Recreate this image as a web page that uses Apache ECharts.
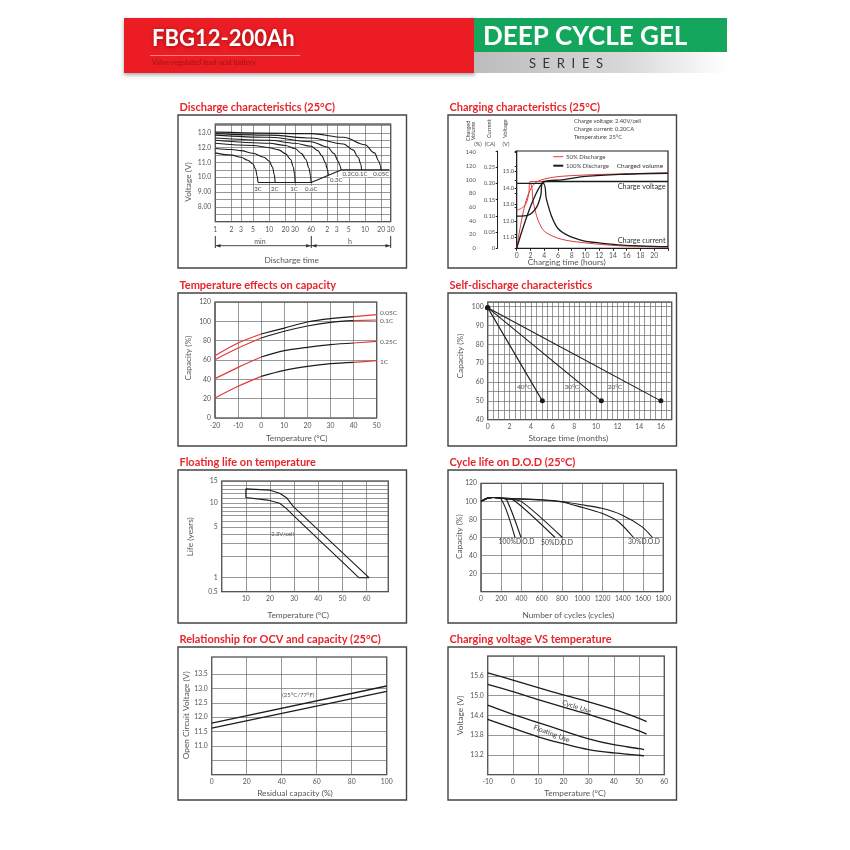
<!DOCTYPE html>
<html><head><meta charset="utf-8">
<script src="https://cdn.jsdelivr.net/npm/echarts@6/dist/echarts.min.js"></script>
<style>html,body{margin:0;padding:0;background:#fff}#c{width:850px;height:850px}</style>
</head><body><div id="c"></div>
<script>
// ================= DATA =================
// 1. Discharge characteristics (25°C): [minutes, volts]
const dischargeTickMinutes = [1,2,3,5,10,20,30,60,120,180,300,600,1200,1800];
const dischargeVoltLabels = [8,9,10,11,12,13];
const dis3C   = [[1,11.65],[2,11.5],[3,11.35],[4,11.15],[5,10.9],[5.6,10.55],[5.95,10.1],[6.2,9.65]];
const dis2C   = [[1,11.95],[2,11.88],[3,11.8],[5,11.62],[8,11.35],[10,11.1],[11.5,10.7],[12.4,10.2],[12.9,9.65]];
const dis1C   = [[1,12.3],[5,12.15],[10,12.0],[15,11.85],[20,11.6],[25,11.2],[28,10.7],[29.6,10.2],[30.3,9.65]];
const dis06C  = [[1,12.5],[10,12.3],[20,12.15],[30,11.95],[40,11.6],[48,11.2],[55,10.6],[58.5,10.1],[60,9.65]];
const dis03C  = [[1,12.65],[10,12.5],[30,12.3],[60,12.1],[80,11.8],[95,11.45],[110,11.0],[120,10.55],[125,10.15]];
const dis02C  = [[1,12.85],[10,12.7],[60,12.4],[120,12.05],[160,11.6],[190,11.1],[205,10.8],[216,10.5]];
const dis01C  = [[1,12.95],[10,12.85],[60,12.65],[240,12.25],[360,11.85],[450,11.35],[500,10.9],[520,10.5]];
const dis005C = [[1,13.05],[60,12.95],[240,12.7],[600,12.2],[900,11.65],[1080,11.1],[1160,10.8],[1190,10.5]];
const disCutoff = [[6.2,9.65],[60,9.65],[216,10.5],[1700,10.5]];
const dischargeRateLabels = ['3C','2C','1C','0.6C','0.3C','0.2C','0.1C','0.05C'];

// 2. Charging characteristics: [hours, value]
const chgVolt50 = [[0,12.65],[0.96,12.85],[1.45,13.15],[1.78,13.75],[1.93,14.4],[3.84,14.4]];
const chgCurr50 = [[0,0.2],[1.93,0.2],[2.4,0.143],[3.1,0.087],[4.1,0.051],[6.5,0.028],[9.9,0.017],[14.8,0.008],[22,0.004]];
const chgVol50  = [[0,0],[0.48,29],[0.96,53],[1.45,72],[2.17,89],[3.1,98],[5.5,104],[10,107],[15,108.5],[22,110]];
const chgVolt100 = [[0,12.3],[1.68,12.36],[2.9,12.85],[3.5,13.55],[3.84,14.4],[22,14.4]];
const chgCurr100 = [[0,0.2],[3.84,0.2],[4.3,0.153],[5.1,0.097],[6,0.061],[7.5,0.039],[9.9,0.022],[11.4,0.018],[15.3,0.01],[22,0.005]];
const chgVol100  = [[0,0],[3.84,96],[6.6,100],[10,105],[15,108],[22,109.5]];
const chgVoltLabels = [11,12,13,14,15];

// 3. Temperature effects on capacity
const tempC = [-20,-10,0,10,20,30,40,50];
const cap005C = [64.5,77.6,86.9,93,99.3,102.8,104.8,106.9];
const cap01C  = [60.3,72.4,82.8,89.7,95.2,99,100.7,101.4];
const cap025C = [40.7,52.4,63.1,69.7,73.1,75.9,77.6,79.3];
const cap1C   = [20.7,32.8,43.1,49.3,53.4,56.2,57.6,59.3];
const capLabels = ['0.05C','0.1C','0.25C','1C'];

// 4. Self-discharge: [months, %]
const sd40 = [[0,99.5],[5.05,50]];
const sd30 = [[0,99.5],[10.5,50]];
const sd20 = [[0,99.5],[16,50]];

// 5. Floating life: [°C, years]
const lifeUpper = [[10,13],[20,12.7],[24,12],[27,11],[29.7,9.1],[61,1]];
const lifeLower = [[10,11.1],[19,10.6],[24,10],[26.6,8.7],[30.2,6.8],[56.8,1]];
const lifeTickLabels = [0.5,1,5,10,15];
const lifeGridValues = [0.5,1,2,3,4,5,6,7,8,9,10,11,12,13,14,15];

// 6. Cycle life: [cycles, %]
const cyc100a = [[0,100],[60,103.3],[120,104.3],[190,103.5],[336,60]];
const cyc100b = [[0,100],[60,103.3],[120,104.3],[200,103.3],[250,102.2],[395,60]];
const cyc50a  = [[0,100],[60,103.3],[120,104.3],[200,103.4],[320,101.5],[731,60]];
const cyc50b  = [[0,100],[60,103.3],[120,104.3],[250,102.8],[400,99.7],[804,60]];
const cyc30a  = [[0,100],[60,103.3],[120,104.3],[300,103],[600,101.8],[797,99.9],[995,96.2],[1193,92.3],[1390,85],[1588,72],[1693,60]];
const cyc30b  = [[0,100],[60,103.3],[120,104.3],[300,103],[600,101.5],[797,99.3],[995,93.5],[1193,86.8],[1357,77.5],[1506,60]];

// 7. OCV: [% residual, volts]
const ocvUpper = [[0,11.8],[100,13.09]];
const ocvLower = [[0,11.62],[100,12.9]];
const ocvTicks = [10,10.5,11,11.5,12,12.5,13,13.5];
const ocvLabels = [11,11.5,12,12.5,13,13.5];

// 8. Charging voltage vs temperature: [°C, volts]
const cycUseUpper = [[-10,15.69],[0,15.47],[10,15.24],[20,15.02],[30,14.81],[40,14.58],[50,14.31],[53,14.21]];
const cycUseLower = [[-10,15.34],[0,15.12],[10,14.88],[20,14.65],[30,14.43],[40,14.18],[50,13.93],[53,13.83]];
const fltUseUpper = [[-10,14.71],[0,14.43],[10,14.18],[20,13.93],[30,13.69],[40,13.51],[50,13.39],[52,13.36]];
const fltUseLower = [[-10,14.28],[0,14.01],[10,13.75],[20,13.54],[30,13.36],[40,13.26],[50,13.19],[52,13.17]];

// ================= STYLE / LAYOUT =================
const FONT = 'Lato, "Noto Sans", "DejaVu Sans", sans-serif';
const RED_T = '#e8252a';
const AX_C = '#555';
const GRID_C = '#6b6b6b';
const LINE_C = '#1c1c1c';
const RED_L = '#e23a3a';

function merge(a,b){ for(const k in b){ const v=b[k];
  if(v && typeof v==='object' && !Array.isArray(v) && !(v instanceof Function) && a[k] && typeof a[k]==='object' && !Array.isArray(a[k])) merge(a[k],v); else a[k]=v; } return a; }

function axis(gi, extra){
  return merge({gridIndex:gi, type:'value', axisLine:{show:false}, axisTick:{show:false},
    splitLine:{show:true, lineStyle:{color:GRID_C, width:0.7}},
    axisLabel:{fontSize:6.8, color:AX_C, fontFamily:FONT, margin:4}}, extra);
}

const gridBoxes = [
  [215.3,124,175.4,97.7],
  [516.7,151,151.3,97.3],
  [215,302,161.7,116],
  [487.7,302,184,117.7],
  [221.7,481,166.6,110.7],
  [481,483.3,182.3,108.4],
  [211.7,657,175,117.7],
  [487.7,656,176.6,118.7]
];

// floating-life vertical scale: anchors of the printed (non-uniform) scale
const lifeAnchorPos = [0, 0.1265, 0.5818, 0.7986, 1];
function lifePos(L){
  const a = lifeTickLabels;
  for(let i=0;i<a.length-1;i++){
    if(L<=a[i+1] || i===a.length-2){
      const f=(Math.log(L)-Math.log(a[i]))/(Math.log(a[i+1])-Math.log(a[i]));
      return Math.round((lifeAnchorPos[i]+f*(lifeAnchorPos[i+1]-lifeAnchorPos[i]))*1e6)/1e6;
    }
  }
}
const lg = v => Math.log10(v);
const dLog = arr => arr.map(p=>[lg(p[0]),p[1]]);
const lifeT = arr => arr.map(p=>[p[0],lifePos(p[1])]);
const zipT = vals => tempC.map((t,i)=>[t,vals[i]]);

const xAxes = [
  axis(0,{min:0,max:lg(1800),
    axisTick:{customValues:dischargeTickMinutes.map(lg)},
    axisLabel:{customValues:dischargeTickMinutes.map(lg), margin:5,
      formatter:v=>{const m=Math.round(Math.pow(10,v)); return m<=60?String(m):String(Math.round(m/60));}}}),
  axis(1,{min:0,max:22,interval:2,splitLine:{show:false},
    axisTick:{show:true,length:2.5,lineStyle:{color:'#222'}},
    axisLabel:{formatter:v=>v>20?'':String(v)}}),
  axis(2,{min:-20,max:50,interval:10}),
  axis(3,{min:0,max:17,interval:0.5,axisLabel:{formatter:v=>(Math.abs(v%2)<1e-6&&v<=16)?String(v):''}}),
  axis(4,{min:0,max:69,interval:10,axisLabel:{formatter:v=>(v>=10&&v<=60)?String(v):''}}),
  axis(5,{min:0,max:1800,interval:200,axisLabel:{formatter:v=>String(v)}}),
  axis(6,{min:0,max:100,interval:20}),
  axis(7,{min:-10,max:60,interval:10})
];
const p2lbl = {margin:2.5,fontSize:5.8};
const yAxes = [
  axis(0,{min:7,max:13.6,interval:0.5,axisLabel:{formatter:v=>{
    const r=Math.round(v*10)/10; if(dischargeVoltLabels.indexOf(r)<0) return ''; return r>=10?r.toFixed(1):r.toFixed(2);}}}),
  axis(1,{position:'left',min:0,max:142,interval:20,offset:38.4,splitLine:{show:false},
    axisLine:{show:true,lineStyle:{color:'#222',width:1}},
    axisTick:{show:true,length:2,lineStyle:{color:'#222'}},
    axisLabel:merge({formatter:v=>v>140?'':String(v)},p2lbl)}),
  axis(1,{position:'left',min:0,max:0.3,interval:0.05,offset:19,splitLine:{show:false},
    axisLine:{show:true,lineStyle:{color:'#222',width:1}},
    axisTick:{show:true,length:2,lineStyle:{color:'#222'}},
    axisLabel:merge({formatter:v=>v>0.26?'':(v===0?'0':v.toFixed(2))},p2lbl)}),
  axis(1,{position:'left',offset:0,min:10.35,max:16.25,splitLine:{show:false},
    axisTick:{show:true,length:2,customValues:chgVoltLabels,lineStyle:{color:'#222'}},
    axisLabel:merge({customValues:chgVoltLabels,formatter:v=>v.toFixed(1)},p2lbl)}),
  axis(2,{min:0,max:120,interval:20}),
  axis(3,{min:40,max:102.5,interval:5,axisLabel:{formatter:v=>(Math.abs(v%10)<1e-6&&v<=100)?String(v):''}}),
  axis(4,{min:0,max:1,
    axisTick:{customValues:lifeGridValues.map(lifePos)},
    axisLabel:{customValues:lifeTickLabels.map(lifePos),
      formatter:v=>{let best=0,bd=9;lifeTickLabels.forEach((L,i)=>{const d=Math.abs(lifePos(L)-v);if(d<bd){bd=d;best=i;}});return String(lifeTickLabels[best]);}}}),
  axis(5,{min:0,max:120,interval:20,axisLabel:{formatter:v=>v===0?'':String(v)}}),
  axis(6,{min:10,max:14.1,axisTick:{customValues:ocvTicks},
    axisLabel:{customValues:ocvLabels,formatter:v=>v.toFixed(1)}}),
  axis(7,{min:12.6,max:16.2,interval:0.6,axisLabel:{formatter:v=>{const r=Math.round(v*10)/10;return (r>=13.2&&r<=15.6)?r.toFixed(1):'';}}})
];

function ln(xi, yi, data, extra){
  return merge({type:'line', xAxisIndex:xi, yAxisIndex:yi, data:data, symbol:'none', silent:true,
    lineStyle:{color:LINE_C, width:1.1}, z:3}, extra||{});
}

const series = [];
// P1
[dis3C,dis2C,dis1C,dis06C,dis03C,dis02C,dis01C,dis005C].forEach(d=>series.push(ln(0,0,dLog(d),{smooth:0.35,smoothMonotone:'x'})));
series.push(ln(0,0,dLog(disCutoff)));
// P2
series.push(ln(1,3,chgVolt50,{smooth:0.3,lineStyle:{color:RED_L,width:1}}));
series.push(ln(1,2,chgCurr50,{smooth:0.3,lineStyle:{color:RED_L,width:1}}));
series.push(ln(1,1,chgVol50,{smooth:0.3,lineStyle:{color:RED_L,width:1}}));
series.push(ln(1,3,chgVolt100,{smooth:0.3,lineStyle:{width:1.3}}));
series.push(ln(1,2,chgCurr100,{smooth:0.3,lineStyle:{width:1.3}}));
series.push(ln(1,1,chgVol100,{smooth:0.3,lineStyle:{width:1.3}}));
// P3: red outside the measured range, black inside
[cap005C,cap01C,cap025C,cap1C].forEach(d=>{
  const pts = zipT(d);
  series.push(ln(2,4,pts.slice(0,3),{smooth:0.3,lineStyle:{color:RED_L,width:1.2}}));
  series.push(ln(2,4,pts.slice(2,7),{smooth:0.35,lineStyle:{width:1.2}}));
  series.push(ln(2,4,pts.slice(6,8),{lineStyle:{color:RED_L,width:1.2}}));
});
// P4
[sd40,sd30,sd20].forEach(d=>series.push(ln(3,5,d,{symbol:'circle',symbolSize:5,showSymbol:true,itemStyle:{color:LINE_C}})));
// P5 band (upper, right closure, lower reversed, left closure)
const lifeBand = lifeUpper.concat(lifeLower.slice().reverse()).concat([lifeUpper[0]]);
series.push(ln(4,6,lifeT(lifeBand),{lineStyle:{width:1.1}}));
// P6
[cyc100a,cyc100b,cyc50a,cyc50b,cyc30a,cyc30b].forEach(d=>series.push(ln(5,7,d,{smooth:0.25})));
// P7
[ocvUpper,ocvLower].forEach(d=>series.push(ln(6,8,d,{lineStyle:{width:1.3}})));
// P8
[cycUseUpper,cycUseLower,fltUseUpper,fltUseLower].forEach(d=>series.push(ln(7,9,d,{smooth:0.3,lineStyle:{width:1.3}})));

// ================= GRAPHICS =================
const G = [];
function txt(x,y,t,o){ G.push({type:'text',x:x,y:y,rotation:(o&&o.rot)||0,silent:true,z:10,
  style:merge({text:t,fill:'#555',fontSize:7,fontFamily:FONT,align:'left',verticalAlign:'middle'}, (o&&o.style)||{})}); }
function line(x1,y1,x2,y2,c,w){ G.push({type:'line',silent:true,z:10,shape:{x1,y1,x2,y2},style:{stroke:c||'#333',lineWidth:w||1}}); }
function poly(pts,c){ G.push({type:'polygon',silent:true,z:10,shape:{points:pts},style:{fill:c||'#333'}}); }

// header
G.push({type:'rect',silent:true,shape:{x:124,y:18,width:351,height:55},style:{fill:'#ec1c24',shadowBlur:4,shadowOffsetY:2,shadowColor:'rgba(0,0,0,0.35)'}});
G.push({type:'rect',silent:true,shape:{x:474,y:18,width:253,height:34},style:{fill:'#13a65c'}});
G.push({type:'rect',silent:true,shape:{x:474,y:52,width:253,height:21},style:{fill:new echarts.graphic.LinearGradient(0,0,1,0,[{offset:0,color:'#bcbcbc'},{offset:0.6,color:'#d8d8d8'},{offset:1,color:'#ffffff'}])}});
txt(152,39,'FBG12-200Ah',{style:{fill:'#fff',fontSize:22,fontWeight:'bold',textShadowColor:'rgba(80,0,0,0.55)',textShadowBlur:4,textShadowOffsetY:1}});
line(150,55.5,300,55.5,'rgba(255,190,190,0.8)',0.8);
txt(152,62.5,'Valve-regulated lead-acid battery',{style:{fill:'#9a1616',fontSize:7.2}});
txt(483,37,'DEEP CYCLE GEL',{style:{fill:'#fff',fontSize:26,fontWeight:'bold'}});
txt(566,64,'S  E  R  I  E  S',{style:{fill:'#333',fontSize:13,align:'center'}});

// frames and titles
const frames = [[178,115],[448,115],[178,293],[448,293],[178,470],[448,470],[178,647],[448,647]];
const titles = ['Discharge characteristics (25°C)','Charging characteristics (25°C)','Temperature effects on capacity','Self-discharge characteristics','Floating life on temperature','Cycle life on D.O.D (25°C)','Relationship for OCV and capacity (25°C)','Charging voltage VS temperature'];
frames.forEach((f,i)=>{
  G.push({type:'rect',silent:true,z:1,shape:{x:f[0],y:f[1],width:228.5,height:153},style:{fill:'none',stroke:'#444',lineWidth:1.4}});
  txt(f[0]+1.5,f[1]-8,titles[i],{style:{fill:RED_T,fontSize:11,fontWeight:'bold'}});
});

// axis names
const R = Math.PI/2;
const nm = {fill:'#555',fontSize:8.3,align:'center'};
txt(188,182,'Voltage (V)',{rot:R,style:nm});      txt(291.7,260,'Discharge time',{style:nm});
txt(566.7,262.3,'Charging time (hours)',{style:nm});
txt(188.3,358,'Capacity (%)',{rot:R,style:nm});   txt(296.7,438.7,'Temperature (°C)',{style:nm});
txt(460,356,'Capacity (%)',{rot:R,style:nm});     txt(568.3,438.7,'Storage time (months)',{style:nm});
txt(190,536.7,'Life (years)',{rot:R,style:nm});   txt(298.3,615,'Temperature (°C)',{style:nm});
txt(459,536.7,'Capacity (%)',{rot:R,style:nm});   txt(568.3,615,'Number of cycles (cycles)',{style:nm});
txt(186.7,715.3,'Open Circuit Voltage (V)',{rot:R,style:nm}); txt(295,793.7,'Residual capacity (%)',{style:nm});
txt(460,715.3,'Voltage (V)',{rot:R,style:nm});    txt(575,793,'Temperature (°C)',{style:nm});

// P1 annotations
const sm = {fill:'#444',fontSize:6,align:'center',backgroundColor:'#fff'};
const rlPos = [[258,189],[274.7,189],[294,189],[311.3,189],[336.3,180],[348.7,174.3],[361.3,174.3],[381.3,174.3]];
dischargeRateLabels.forEach((t,i)=>txt(rlPos[i][0],rlPos[i][1],t,{style:sm}));
line(215.3,236,215.3,248,'#333',1); line(311.3,236,311.3,248,'#333',1); line(390.7,236,390.7,248,'#333',1);
line(215.3,245.7,390.7,245.7,'#333',0.9);
poly([[215.8,245.7],[220.5,243.9],[220.5,247.5]]); poly([[310.8,245.7],[306.1,243.9],[306.1,247.5]]);
poly([[311.8,245.7],[316.5,243.9],[316.5,247.5]]); poly([[390.2,245.7],[385.5,243.9],[385.5,247.5]]);
txt(260,241.5,'min',{style:{fill:'#555',fontSize:7,align:'center',backgroundColor:'#fff'}});
txt(350,241.5,'h',{style:{fill:'#555',fontSize:7,align:'center',backgroundColor:'#fff'}});

// P2 annotations
const p2s = {fill:'#444',fontSize:5.8};
txt(574,121,'Charge voltage: 2.40V/cell',{style:p2s});
txt(574,129,'Charge current: 0.20CA',{style:p2s});
txt(574,137,'Temperature: 25°C',{style:p2s});
const rs = {fill:'#444',fontSize:5.6,align:'center'};
txt(470.5,131,'Charged\nVolume',{rot:R,style:Object.assign({lineHeight:5.5},rs)});
txt(489,128.7,'Current',{rot:R,style:rs});
txt(505,128.7,'Voltage',{rot:R,style:rs});
txt(478,144.3,'(%)',{style:rs}); txt(490,144.3,'(CA)',{style:rs}); txt(506,144.3,'(V)',{style:rs});
line(553.3,156.7,563.3,156.7,RED_L,1); txt(566,156.7,'50% Discharge',{style:{fill:'#444',fontSize:6}});
line(553.3,165.7,563.3,165.7,LINE_C,2); txt(566,165.7,'100% Discharge',{style:{fill:'#444',fontSize:6}});
txt(616.7,166,'Charged volume',{style:{fill:'#333',fontSize:6.5}});
txt(617.7,186.7,'Charge voltage',{style:{fill:'#333',fontSize:7.3}});
txt(617.7,240.7,'Charge current',{style:{fill:'#333',fontSize:7.3}});

// P3 labels
const p3L = [[380,313],[380,321],[380,342],[380,362]];
capLabels.forEach((t,i)=>txt(p3L[i][0],p3L[i][1],t,{style:{fill:'#555',fontSize:6.5}}));
// P4 labels
const sdl = {fill:'#555',fontSize:6.5,align:'center'};
txt(524.3,387,'40°C',{style:sdl}); txt(571.7,387,'30°C',{style:sdl}); txt(615,387,'20°C',{style:sdl});
// P5
txt(282.5,534.3,'2.3V/cell',{style:{fill:'#555',fontSize:5.8,align:'center'}});
// P6
const cdl = {fill:'#444',fontSize:6.8,align:'center'};
txt(516.5,542,'100%D.O.D',{style:cdl}); txt(557,543,'50%D.O.D',{style:cdl}); txt(644,542,'30%D.O.D',{style:cdl});
// P7
txt(298.3,694.7,'(25°C/77°F)',{style:{fill:'#555',fontSize:6,align:'center'}});
// P8
txt(576.7,707,'Cycle Use',{rot:-0.33,style:{fill:'#444',fontSize:7,align:'center'}});
txt(551.7,733.7,'Floating Use',{rot:-0.36,style:{fill:'#444',fontSize:7,align:'center'}});

const option = {
  animation:false,
  backgroundColor:'#fff',
  textStyle:{fontFamily:FONT},
  grid: gridBoxes.map(b=>({left:b[0],top:b[1],width:b[2],height:b[3],show:true,borderColor:'#1e1e1e',borderWidth:1.2,containLabel:false,outerBoundsMode:'none'})),
  xAxis: xAxes,
  yAxis: yAxes,
  series: series,
  graphic: G
};
const chart = echarts.init(document.getElementById('c'),null,{renderer:'canvas'});
chart.setOption(option);
</script>
</body></html>
